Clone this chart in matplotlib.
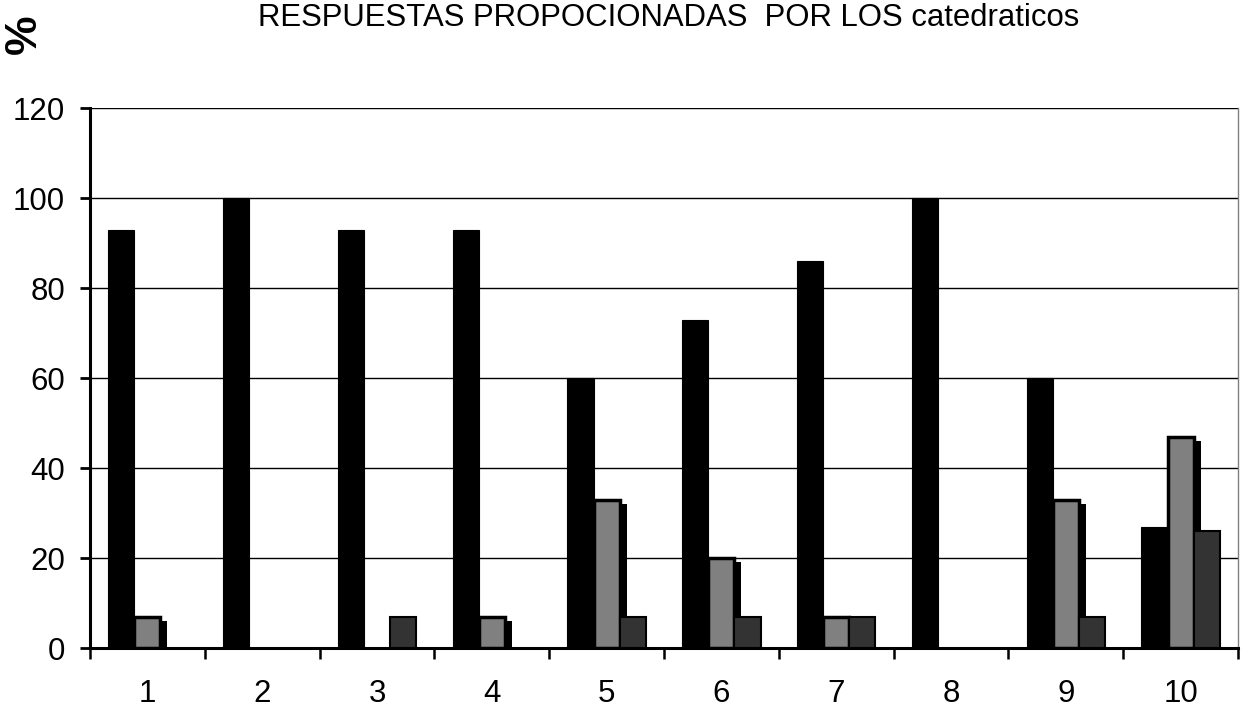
import matplotlib
matplotlib.use("Agg")
import matplotlib.pyplot as plt
import matplotlib.patheffects as pe
import numpy as np

categories = ["1", "2", "3", "4", "5", "6", "7", "8", "9", "10"]
serie_a = [93, 100, 93, 93, 60, 73, 86, 100, 60, 27]
serie_b = [7, 0, 0, 7, 33, 20, 7, 0, 33, 47]
serie_c = [0, 0, 7, 0, 7, 7, 7, 0, 7, 26]
y_ticks = [0, 20, 40, 60, 80, 100, 120]
title = "RESPUESTAS PROPOCIONADAS  POR LOS catedraticos"

plt.rcParams['font.family'] = ['Liberation Sans', 'DejaVu Sans']

fig = plt.figure(figsize=(12.45, 7.12), dpi=100)
ax = fig.add_axes([90/1245, 64/712, 1148/1245, 540/712])

x = np.arange(len(categories))
w = 0.228

ax.bar(x - w, serie_a, width=w, color='black', edgecolor='black', linewidth=0.8, zorder=3)
bars_b = ax.bar(x, serie_b, width=w, color='#808080', edgecolor='black', linewidth=2.5, zorder=3)
for b, v in zip(bars_b, serie_b):
    if v > 0:
        b.set_path_effects([pe.SimplePatchShadow(offset=(5, -3), shadow_rgbFace='black', alpha=1.0), pe.Normal()])
    else:
        b.set_visible(False)
bars_c = ax.bar(x + w, serie_c, width=w, color='#333333', edgecolor='black', linewidth=1.5, zorder=4)
for b, v in zip(bars_c, serie_c):
    if v == 0:
        b.set_visible(False)

ax.set_xlim(-0.5, len(categories) - 0.5)
ax.set_ylim(0, 120)
ax.set_yticks(y_ticks)
ax.set_yticklabels([str(t) for t in y_ticks], fontsize=22.5)
ax.set_xticks(x)
ax.set_xticklabels(categories, fontsize=22.5)
ax.set_xticks(np.arange(len(categories) + 1) - 0.5, minor=True)
ax.tick_params(axis='x', which='major', length=0, pad=22)
ax.tick_params(axis='x', which='minor', length=8, width=1.8, direction='out', color='black')
ax.tick_params(axis='y', which='major', length=7, width=2.0, direction='out', pad=11)

ax.grid(axis='y', color='black', linewidth=1.0, zorder=0)
ax.set_axisbelow(True)
for s in ['left', 'bottom']:
    ax.spines[s].set_linewidth(2.2)
    ax.spines[s].set_color('black')
ax.spines['top'].set_visible(False)
ax.spines['right'].set_color('#808080')
ax.spines['right'].set_linewidth(1.0)

fig.text(669/1245, 1 - 18/712, title, ha='center', va='center', fontsize=22.4)
fig.text(24/1245, 1 - 34/712, "%", rotation=90, ha='center', va='center', fontsize=32, fontweight='bold')

fig.savefig("out.png", dpi=100)
